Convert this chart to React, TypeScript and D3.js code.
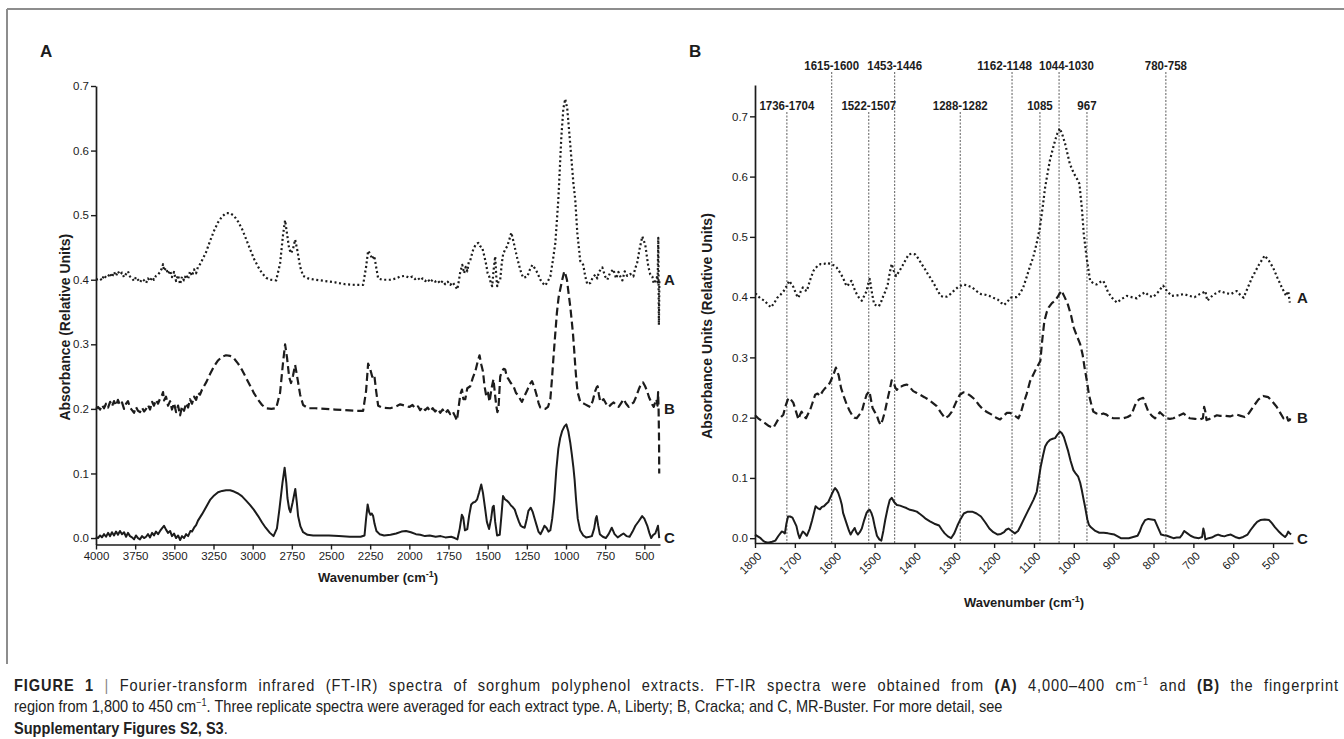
import * as d3 from 'd3'
import React from 'react'

type Pt = [number, number]

// panel A: full spectra, 4000-400 cm-1  [wavenumber, absorbance]
const fullLiberty: Pt[] = [
    [4000, 0.4], [3974, 0.402], [3962, 0.399], [3949, 0.407], [3936, 0.403], [3923, 0.405], [3910, 0.41], [3898, 0.404],
    [3885, 0.412], [3872, 0.406], [3860, 0.413], [3847, 0.408], [3834, 0.411], [3821, 0.404], [3808, 0.409], [3796, 0.413],
    [3783, 0.405], [3770, 0.402], [3757, 0.398], [3745, 0.404], [3732, 0.4], [3719, 0.396], [3706, 0.401], [3693, 0.399],
    [3680, 0.395], [3668, 0.402], [3655, 0.398], [3642, 0.404], [3630, 0.4], [3617, 0.406], [3604, 0.408], [3591, 0.412],
    [3579, 0.418], [3572, 0.424], [3566, 0.414], [3553, 0.418], [3540, 0.409], [3527, 0.414], [3515, 0.404], [3502, 0.412],
    [3489, 0.398], [3476, 0.407], [3463, 0.393], [3451, 0.405], [3438, 0.399], [3425, 0.408], [3412, 0.401], [3400, 0.413],
    [3387, 0.406], [3374, 0.416], [3361, 0.41], [3349, 0.42], [3336, 0.424], [3323, 0.43], [3297, 0.443], [3272, 0.46],
    [3246, 0.476], [3221, 0.489], [3195, 0.498], [3170, 0.503], [3144, 0.503], [3119, 0.499], [3093, 0.49], [3067, 0.478],
    [3042, 0.463], [3016, 0.447], [2991, 0.432], [2965, 0.42], [2940, 0.41], [2914, 0.403], [2889, 0.4], [2850, 0.399],
    [2825, 0.425], [2806, 0.47], [2793, 0.492], [2780, 0.47], [2767, 0.448], [2755, 0.441], [2742, 0.448], [2729, 0.462],
    [2716, 0.447], [2697, 0.42], [2678, 0.406], [2646, 0.402], [2601, 0.4], [2537, 0.398], [2474, 0.396], [2410, 0.393],
    [2346, 0.392], [2295, 0.392], [2276, 0.42], [2263, 0.445], [2250, 0.44], [2237, 0.432], [2224, 0.437], [2212, 0.42],
    [2199, 0.402], [2173, 0.4], [2122, 0.4], [2084, 0.402], [2058, 0.405], [2026, 0.406], [2000, 0.403], [1980, 0.405],
    [1963, 0.401], [1945, 0.403], [1931, 0.399], [1915, 0.402], [1899, 0.398], [1883, 0.401], [1867, 0.396], [1851, 0.4],
    [1835, 0.397], [1819, 0.399], [1803, 0.394], [1787, 0.398], [1771, 0.393], [1755, 0.397], [1739, 0.392], [1723, 0.396],
    [1707, 0.39], [1694, 0.385], [1684, 0.398], [1675, 0.412], [1662, 0.423], [1650, 0.41], [1640, 0.42], [1630, 0.413],
    [1620, 0.428], [1611, 0.43], [1600, 0.44], [1592, 0.447], [1575, 0.455], [1560, 0.457], [1548, 0.452], [1535, 0.45],
    [1520, 0.435], [1509, 0.423], [1500, 0.41], [1490, 0.405], [1480, 0.395], [1471, 0.39], [1462, 0.415], [1452, 0.436],
    [1445, 0.405], [1439, 0.39], [1430, 0.398], [1420, 0.4], [1410, 0.425], [1401, 0.44], [1388, 0.447], [1375, 0.452],
    [1362, 0.462], [1349, 0.473], [1336, 0.46], [1324, 0.447], [1310, 0.432], [1298, 0.421], [1285, 0.41], [1273, 0.403],
    [1260, 0.404], [1247, 0.405], [1230, 0.416], [1215, 0.423], [1200, 0.418], [1183, 0.411], [1164, 0.4], [1150, 0.395],
    [1132, 0.391], [1115, 0.398], [1100, 0.405], [1085, 0.428], [1068, 0.457], [1049, 0.524], [1030, 0.62], [1017, 0.665],
    [1005, 0.68], [992, 0.665], [973, 0.61], [953, 0.55], [941, 0.524], [928, 0.473], [909, 0.429], [890, 0.423],
    [877, 0.405], [864, 0.393], [845, 0.395], [830, 0.403], [813, 0.408], [800, 0.402], [790, 0.412], [768, 0.419],
    [750, 0.405], [736, 0.4], [720, 0.41], [698, 0.416], [680, 0.402], [665, 0.412], [653, 0.405], [640, 0.399],
    [625, 0.413], [609, 0.406], [590, 0.409], [570, 0.405], [560, 0.416], [545, 0.427], [530, 0.448], [513, 0.467],
    [494, 0.454], [475, 0.421], [462, 0.408], [449, 0.405], [440, 0.394], [430, 0.398], [420, 0.404], [415, 0.396],
    [411, 0.465], [407, 0.33], [404, 0.398], [400, 0.4],
]

const fullCracka: Pt[] = [
    [4000, 0.2], [3987, 0.203], [3974, 0.199], [3962, 0.206], [3949, 0.201], [3936, 0.208], [3923, 0.202], [3910, 0.211],
    [3898, 0.204], [3885, 0.212], [3872, 0.205], [3860, 0.214], [3847, 0.206], [3834, 0.21], [3821, 0.2], [3808, 0.208],
    [3796, 0.212], [3783, 0.202], [3770, 0.198], [3757, 0.194], [3745, 0.203], [3732, 0.197], [3719, 0.195], [3706, 0.202],
    [3693, 0.196], [3680, 0.2], [3668, 0.206], [3655, 0.199], [3642, 0.211], [3630, 0.205], [3617, 0.214], [3604, 0.208],
    [3591, 0.216], [3579, 0.221], [3572, 0.226], [3566, 0.213], [3553, 0.219], [3540, 0.205], [3527, 0.212], [3515, 0.199],
    [3502, 0.209], [3489, 0.195], [3476, 0.205], [3463, 0.19], [3451, 0.204], [3438, 0.197], [3425, 0.209], [3412, 0.202],
    [3400, 0.215], [3387, 0.208], [3374, 0.219], [3361, 0.214], [3349, 0.225], [3336, 0.222], [3323, 0.23], [3297, 0.241],
    [3272, 0.254], [3246, 0.266], [3221, 0.275], [3195, 0.281], [3170, 0.283], [3144, 0.282], [3119, 0.278], [3093, 0.27],
    [3067, 0.26], [3042, 0.248], [3016, 0.236], [2991, 0.224], [2965, 0.214], [2940, 0.206], [2914, 0.201], [2880, 0.2],
    [2850, 0.201], [2825, 0.225], [2806, 0.272], [2793, 0.3], [2780, 0.278], [2767, 0.249], [2755, 0.24], [2742, 0.252],
    [2729, 0.268], [2716, 0.25], [2697, 0.222], [2678, 0.206], [2646, 0.201], [2601, 0.201], [2537, 0.2], [2474, 0.199],
    [2410, 0.198], [2346, 0.197], [2295, 0.197], [2276, 0.228], [2263, 0.27], [2250, 0.262], [2237, 0.25], [2224, 0.253],
    [2212, 0.228], [2199, 0.205], [2173, 0.202], [2122, 0.201], [2084, 0.204], [2058, 0.207], [2026, 0.205], [2000, 0.203],
    [1980, 0.206], [1963, 0.201], [1945, 0.204], [1931, 0.198], [1915, 0.203], [1899, 0.198], [1883, 0.202], [1867, 0.196],
    [1851, 0.201], [1835, 0.196], [1819, 0.2], [1803, 0.194], [1787, 0.199], [1771, 0.193], [1755, 0.198], [1739, 0.192],
    [1723, 0.196], [1707, 0.188], [1696, 0.182], [1684, 0.205], [1675, 0.222], [1664, 0.23], [1655, 0.215], [1643, 0.215],
    [1630, 0.232], [1611, 0.235], [1595, 0.248], [1579, 0.258], [1565, 0.272], [1552, 0.283], [1540, 0.268], [1530, 0.258],
    [1520, 0.235], [1509, 0.22], [1498, 0.225], [1488, 0.211], [1475, 0.232], [1463, 0.246], [1453, 0.222], [1445, 0.205],
    [1438, 0.195], [1431, 0.2], [1420, 0.25], [1409, 0.258], [1398, 0.262], [1388, 0.261], [1378, 0.25], [1367, 0.246],
    [1352, 0.24], [1335, 0.235], [1320, 0.225], [1303, 0.22], [1290, 0.214], [1281, 0.211], [1265, 0.22], [1249, 0.228],
    [1232, 0.238], [1217, 0.243], [1200, 0.232], [1186, 0.22], [1175, 0.209], [1164, 0.202], [1148, 0.2], [1132, 0.2],
    [1115, 0.203], [1100, 0.215], [1090, 0.245], [1079, 0.283], [1068, 0.318], [1058, 0.349], [1047, 0.373], [1037, 0.385],
    [1024, 0.4], [1011, 0.413], [1003, 0.408], [994, 0.4], [984, 0.38], [973, 0.359], [965, 0.34], [956, 0.318],
    [948, 0.292], [941, 0.267], [934, 0.245], [926, 0.226], [909, 0.211], [893, 0.209], [877, 0.207], [861, 0.205],
    [845, 0.203], [830, 0.212], [813, 0.228], [805, 0.233], [798, 0.235], [790, 0.222], [781, 0.211], [770, 0.213],
    [760, 0.215], [744, 0.208], [728, 0.203], [712, 0.207], [696, 0.21], [680, 0.206], [664, 0.203], [648, 0.209],
    [632, 0.215], [616, 0.208], [600, 0.203], [584, 0.207], [568, 0.21], [552, 0.219], [536, 0.23], [522, 0.238],
    [508, 0.241], [495, 0.235], [483, 0.228], [470, 0.218], [457, 0.211], [448, 0.206], [440, 0.203], [431, 0.21],
    [423, 0.215], [416, 0.205], [412, 0.226], [409, 0.2], [406, 0.15], [405, 0.1],
]

const fullBuster: Pt[] = [
    [4000, 0.002], [3987, 0.0], [3974, 0.004], [3962, 0.001], [3949, 0.006], [3936, 0.002], [3923, 0.008], [3910, 0.003],
    [3898, 0.009], [3885, 0.004], [3872, 0.01], [3860, 0.005], [3847, 0.011], [3834, 0.006], [3821, 0.009], [3808, 0.002],
    [3796, 0.008], [3783, 0.003], [3770, 0.001], [3757, -0.002], [3745, 0.004], [3732, 0.0], [3719, -0.002], [3706, 0.003],
    [3693, 0.0], [3680, 0.002], [3668, 0.006], [3655, 0.001], [3642, 0.008], [3630, 0.004], [3617, 0.01], [3604, 0.006],
    [3591, 0.011], [3579, 0.015], [3566, 0.019], [3553, 0.013], [3540, 0.008], [3527, 0.011], [3515, 0.003], [3502, 0.007],
    [3489, 0.0], [3476, 0.004], [3463, -0.003], [3451, 0.003], [3438, 0.0], [3425, 0.006], [3412, 0.003], [3397, 0.011],
    [3387, 0.01], [3374, 0.016], [3361, 0.02], [3349, 0.027], [3323, 0.037], [3297, 0.048], [3272, 0.059], [3246, 0.066],
    [3221, 0.071], [3195, 0.073], [3170, 0.074], [3144, 0.074], [3119, 0.072], [3093, 0.069], [3069, 0.065], [3042, 0.058],
    [3016, 0.051], [2993, 0.044], [2965, 0.034], [2940, 0.024], [2917, 0.016], [2890, 0.008], [2867, 0.003], [2845, 0.015],
    [2829, 0.045], [2810, 0.085], [2796, 0.109], [2785, 0.085], [2778, 0.062], [2767, 0.045], [2759, 0.04], [2745, 0.055],
    [2728, 0.076], [2718, 0.055], [2710, 0.034], [2695, 0.018], [2678, 0.009], [2650, 0.005], [2614, 0.004], [2560, 0.004],
    [2513, 0.004], [2450, 0.003], [2380, 0.002], [2311, 0.002], [2286, 0.004], [2276, 0.03], [2266, 0.052], [2256, 0.04],
    [2248, 0.036], [2240, 0.038], [2231, 0.034], [2222, 0.022], [2210, 0.011], [2190, 0.006], [2161, 0.004], [2120, 0.005],
    [2084, 0.007], [2050, 0.01], [2021, 0.011], [1990, 0.009], [1958, 0.006], [1930, 0.005], [1900, 0.003], [1870, 0.004],
    [1832, 0.002], [1800, 0.003], [1770, 0.001], [1733, 0.002], [1710, 0.0], [1693, -0.002], [1678, 0.015], [1665, 0.036],
    [1656, 0.032], [1645, 0.012], [1630, 0.014], [1618, 0.035], [1605, 0.052], [1592, 0.055], [1580, 0.056], [1567, 0.06],
    [1555, 0.07], [1541, 0.083], [1530, 0.07], [1516, 0.045], [1505, 0.025], [1491, 0.014], [1478, 0.03], [1468, 0.048],
    [1461, 0.05], [1452, 0.025], [1440, 0.004], [1423, 0.005], [1412, 0.035], [1402, 0.065], [1390, 0.06], [1378, 0.058],
    [1365, 0.055], [1350, 0.05], [1340, 0.048], [1327, 0.044], [1315, 0.035], [1300, 0.025], [1289, 0.019], [1276, 0.017],
    [1264, 0.016], [1250, 0.03], [1240, 0.042], [1225, 0.047], [1212, 0.04], [1200, 0.03], [1188, 0.02], [1176, 0.01],
    [1163, 0.006], [1150, 0.012], [1138, 0.019], [1125, 0.016], [1112, 0.01], [1100, 0.012], [1088, 0.03], [1075, 0.06],
    [1062, 0.105], [1049, 0.138], [1037, 0.155], [1024, 0.166], [1010, 0.173], [998, 0.176], [985, 0.165], [973, 0.148],
    [963, 0.13], [953, 0.11], [945, 0.09], [936, 0.06], [925, 0.03], [910, 0.012], [890, 0.004], [872, 0.001],
    [850, 0.002], [835, 0.003], [820, 0.015], [810, 0.03], [804, 0.034], [795, 0.02], [784, 0.006], [765, 0.002],
    [746, 0.0], [728, 0.006], [708, 0.016], [690, 0.006], [670, 0.001], [652, 0.004], [633, 0.007], [614, 0.003],
    [594, 0.002], [575, 0.01], [557, 0.019], [536, 0.026], [514, 0.034], [500, 0.03], [481, 0.019], [468, 0.008],
    [456, 0.0], [443, 0.005], [430, 0.007], [420, 0.014], [413, 0.019], [409, 0.01], [405, 0.0],
]

// panel B: fingerprint region, 1800-450 cm-1
const fpLiberty: Pt[] = [
    [1800, 0.405], [1797, 0.405], [1787, 0.398], [1776, 0.394], [1768, 0.388], [1760, 0.383], [1752, 0.39], [1744, 0.399],
    [1736, 0.404], [1728, 0.41], [1721, 0.418], [1714, 0.427], [1708, 0.421], [1703, 0.416], [1697, 0.405], [1691, 0.399],
    [1685, 0.41], [1680, 0.416], [1675, 0.412], [1670, 0.41], [1662, 0.428], [1653, 0.444], [1643, 0.452], [1635, 0.455],
    [1627, 0.455], [1619, 0.457], [1611, 0.455], [1603, 0.453], [1595, 0.449], [1587, 0.441], [1579, 0.432], [1573, 0.422],
    [1568, 0.418], [1563, 0.424], [1558, 0.427], [1552, 0.416], [1547, 0.408], [1540, 0.4], [1532, 0.394], [1526, 0.402],
    [1520, 0.41], [1516, 0.422], [1512, 0.43], [1506, 0.405], [1501, 0.388], [1495, 0.386], [1489, 0.385], [1483, 0.393],
    [1478, 0.402], [1472, 0.411], [1467, 0.421], [1462, 0.44], [1457, 0.455], [1452, 0.444], [1446, 0.435], [1438, 0.443],
    [1430, 0.452], [1422, 0.462], [1414, 0.471], [1406, 0.472], [1398, 0.471], [1390, 0.464], [1382, 0.455], [1374, 0.447],
    [1366, 0.438], [1358, 0.43], [1350, 0.421], [1342, 0.411], [1334, 0.402], [1326, 0.4], [1318, 0.401], [1310, 0.405],
    [1302, 0.41], [1290, 0.417], [1276, 0.421], [1266, 0.419], [1255, 0.416], [1244, 0.41], [1233, 0.405], [1222, 0.404],
    [1212, 0.402], [1202, 0.399], [1191, 0.396], [1183, 0.391], [1175, 0.387], [1167, 0.392], [1159, 0.399], [1151, 0.4],
    [1143, 0.4], [1135, 0.406], [1127, 0.416], [1119, 0.432], [1111, 0.449], [1102, 0.466], [1093, 0.49], [1085, 0.516],
    [1078, 0.55], [1072, 0.582], [1066, 0.605], [1060, 0.627], [1053, 0.645], [1047, 0.66], [1041, 0.672], [1035, 0.68],
    [1028, 0.668], [1022, 0.655], [1016, 0.638], [1010, 0.621], [1003, 0.61], [997, 0.602], [991, 0.595], [986, 0.588],
    [980, 0.549], [975, 0.505], [968, 0.466], [959, 0.427], [951, 0.423], [943, 0.421], [934, 0.425], [926, 0.427],
    [920, 0.418], [914, 0.408], [903, 0.398], [892, 0.391], [880, 0.397], [867, 0.402], [855, 0.4], [842, 0.398],
    [832, 0.404], [821, 0.408], [811, 0.402], [801, 0.4], [789, 0.408], [776, 0.419], [766, 0.41], [755, 0.402],
    [740, 0.403], [724, 0.405], [710, 0.402], [697, 0.4], [684, 0.405], [674, 0.408], [670, 0.41], [665, 0.394],
    [650, 0.404], [633, 0.41], [620, 0.407], [606, 0.405], [598, 0.408], [591, 0.41], [583, 0.404], [574, 0.399],
    [564, 0.415], [553, 0.432], [537, 0.452], [521, 0.469], [510, 0.46], [500, 0.449], [489, 0.432], [478, 0.416],
    [472, 0.408], [467, 0.402], [462, 0.41], [458, 0.391],
]

const fpCracka: Pt[] = [
    [1800, 0.204], [1792, 0.199], [1784, 0.195], [1775, 0.191], [1765, 0.186], [1754, 0.183], [1748, 0.19], [1742, 0.197],
    [1736, 0.2], [1729, 0.205], [1722, 0.222], [1716, 0.233], [1710, 0.23], [1704, 0.225], [1697, 0.21], [1691, 0.197],
    [1687, 0.205], [1683, 0.21], [1678, 0.203], [1672, 0.199], [1667, 0.206], [1662, 0.212], [1655, 0.226], [1649, 0.238],
    [1643, 0.24], [1637, 0.236], [1630, 0.244], [1624, 0.249], [1618, 0.252], [1612, 0.258], [1604, 0.27], [1597, 0.283],
    [1590, 0.27], [1584, 0.249], [1577, 0.235], [1570, 0.222], [1563, 0.212], [1557, 0.205], [1551, 0.2], [1545, 0.199],
    [1538, 0.205], [1532, 0.21], [1526, 0.225], [1520, 0.238], [1513, 0.244], [1509, 0.23], [1505, 0.216], [1500, 0.21],
    [1495, 0.205], [1490, 0.195], [1485, 0.188], [1480, 0.196], [1474, 0.21], [1467, 0.232], [1461, 0.249], [1457, 0.262],
    [1453, 0.26], [1448, 0.25], [1444, 0.246], [1438, 0.252], [1432, 0.252], [1425, 0.254], [1419, 0.255], [1411, 0.25],
    [1403, 0.244], [1394, 0.241], [1386, 0.238], [1375, 0.234], [1365, 0.23], [1355, 0.225], [1344, 0.219], [1333, 0.208],
    [1323, 0.199], [1314, 0.203], [1306, 0.21], [1296, 0.225], [1286, 0.238], [1277, 0.242], [1269, 0.241], [1259, 0.236],
    [1248, 0.23], [1238, 0.221], [1227, 0.213], [1217, 0.209], [1206, 0.205], [1195, 0.2], [1185, 0.197], [1176, 0.203],
    [1168, 0.208], [1160, 0.208], [1150, 0.204], [1139, 0.199], [1133, 0.208], [1127, 0.222], [1118, 0.24], [1110, 0.26],
    [1097, 0.278], [1084, 0.294], [1079, 0.33], [1074, 0.36], [1068, 0.375], [1063, 0.383], [1055, 0.39], [1047, 0.394],
    [1039, 0.402], [1031, 0.411], [1023, 0.4], [1015, 0.388], [1007, 0.37], [1000, 0.349], [992, 0.335], [984, 0.322],
    [978, 0.305], [973, 0.283], [967, 0.26], [962, 0.238], [956, 0.222], [951, 0.21], [943, 0.207], [934, 0.205],
    [926, 0.207], [918, 0.205], [910, 0.201], [901, 0.199], [888, 0.199], [876, 0.199], [865, 0.201], [855, 0.205],
    [848, 0.218], [842, 0.227], [834, 0.231], [826, 0.233], [820, 0.222], [813, 0.21], [804, 0.203], [796, 0.199],
    [790, 0.204], [784, 0.209], [776, 0.204], [767, 0.199], [759, 0.198], [750, 0.199], [738, 0.203], [725, 0.207],
    [717, 0.203], [709, 0.199], [696, 0.198], [683, 0.197], [676, 0.199], [673, 0.218], [670, 0.21], [667, 0.196],
    [659, 0.198], [650, 0.201], [641, 0.204], [633, 0.203], [620, 0.203], [608, 0.202], [599, 0.204], [591, 0.205],
    [581, 0.203], [571, 0.201], [561, 0.207], [550, 0.218], [537, 0.23], [525, 0.236], [518, 0.235], [512, 0.234],
    [501, 0.226], [491, 0.218], [482, 0.208], [474, 0.199], [470, 0.201], [466, 0.203], [462, 0.195], [458, 0.196],
    [455, 0.203],
]

const fpBuster: Pt[] = [
    [1800, 0.006], [1793, 0.003], [1786, 0.0], [1780, -0.004], [1776, -0.006], [1770, -0.007], [1765, -0.007], [1757, -0.006],
    [1749, -0.004], [1741, 0.004], [1733, 0.011], [1729, 0.01], [1725, 0.008], [1721, 0.025], [1717, 0.036], [1712, 0.036],
    [1706, 0.034], [1701, 0.027], [1696, 0.02], [1692, 0.008], [1688, 0.0], [1684, 0.006], [1680, 0.011], [1675, 0.008],
    [1670, 0.004], [1663, 0.015], [1657, 0.029], [1652, 0.042], [1648, 0.053], [1643, 0.05], [1637, 0.048], [1632, 0.052],
    [1627, 0.053], [1621, 0.057], [1616, 0.06], [1612, 0.066], [1608, 0.072], [1603, 0.079], [1599, 0.083], [1595, 0.08],
    [1591, 0.075], [1586, 0.065], [1582, 0.055], [1579, 0.042], [1573, 0.03], [1568, 0.02], [1564, 0.012], [1560, 0.006],
    [1555, 0.012], [1550, 0.017], [1546, 0.01], [1542, 0.006], [1537, 0.01], [1532, 0.016], [1526, 0.03], [1520, 0.042],
    [1516, 0.046], [1512, 0.047], [1508, 0.042], [1504, 0.034], [1499, 0.018], [1494, 0.004], [1488, -0.002], [1483, -0.004],
    [1478, 0.012], [1473, 0.031], [1467, 0.05], [1462, 0.063], [1457, 0.067], [1451, 0.06], [1444, 0.055], [1436, 0.054],
    [1428, 0.052], [1420, 0.05], [1411, 0.047], [1403, 0.046], [1394, 0.044], [1386, 0.04], [1378, 0.036], [1371, 0.032],
    [1361, 0.028], [1350, 0.024], [1338, 0.021], [1331, 0.014], [1324, 0.008], [1316, 0.003], [1308, 0.0], [1300, 0.008],
    [1292, 0.021], [1284, 0.032], [1276, 0.041], [1266, 0.044], [1255, 0.044], [1244, 0.041], [1233, 0.036], [1222, 0.026],
    [1212, 0.016], [1202, 0.01], [1191, 0.006], [1183, 0.007], [1175, 0.01], [1170, 0.014], [1164, 0.016], [1156, 0.012],
    [1148, 0.008], [1140, 0.012], [1133, 0.021], [1125, 0.032], [1116, 0.044], [1110, 0.052], [1101, 0.064], [1093, 0.077],
    [1083, 0.119], [1077, 0.138], [1072, 0.152], [1066, 0.159], [1060, 0.163], [1053, 0.165], [1047, 0.166], [1041, 0.172],
    [1035, 0.177], [1030, 0.174], [1025, 0.168], [1020, 0.157], [1014, 0.144], [1008, 0.128], [1001, 0.113], [995, 0.107],
    [989, 0.102], [984, 0.092], [980, 0.08], [976, 0.066], [972, 0.053], [966, 0.031], [962, 0.022], [957, 0.018],
    [946, 0.012], [936, 0.009], [925, 0.009], [914, 0.008], [906, 0.007], [898, 0.006], [890, 0.003], [882, 0.0],
    [872, 0.0], [862, 0.0], [851, 0.002], [840, 0.004], [834, 0.012], [829, 0.021], [821, 0.03], [813, 0.032],
    [805, 0.031], [797, 0.03], [789, 0.018], [781, 0.006], [774, 0.005], [766, 0.004], [758, 0.002], [750, 0.0],
    [742, 0.001], [734, 0.001], [728, 0.006], [723, 0.012], [715, 0.008], [707, 0.004], [697, 0.001], [686, 0.0],
    [678, 0.002], [675, 0.016], [672, 0.008], [670, -0.002], [662, 0.0], [654, 0.001], [646, 0.004], [638, 0.006],
    [630, 0.004], [622, 0.003], [614, 0.005], [606, 0.006], [595, 0.002], [585, 0.0], [575, 0.002], [564, 0.006],
    [556, 0.014], [548, 0.021], [540, 0.027], [532, 0.03], [521, 0.031], [510, 0.03], [503, 0.025], [495, 0.018],
    [487, 0.012], [478, 0.006], [470, 0.002], [466, 0.005], [462, 0.011], [458, 0.008], [455, 0.006],
]

const fullTicks = [4000, 3750, 3500, 3250, 3000, 2750, 2500, 2250, 2000, 1750, 1500, 1250, 1000, 750, 500]
const fpTicks = [1800, 1700, 1600, 1500, 1400, 1300, 1200, 1100, 1000, 900, 800, 700, 600, 500]
const absTicks = [0, 0.1, 0.2, 0.3, 0.4, 0.5, 0.6, 0.7]

const seriesKeys = ['A', 'B', 'C']
const seriesLevels = [0.4, 0.2, 0.0]

// assigned band ranges drawn as dashed guides in panel B
const bandLabels = ['1736-1704', '1615-1600', '1522-1507', '1453-1446', '1288-1282', '1162-1148', '1085', '1044-1030', '967', '780-758']
const bandCenters = [1720, 1607.5, 1514.5, 1449.5, 1285, 1155, 1085, 1037, 967, 769]
const bandRows = [2, 1, 2, 1, 2, 1, 2, 1, 2, 1]

const FONT = '"Liberation Sans", Arial, Helvetica, sans-serif'
const INK = '#1c1c1c'

const strokeStyles = [
    { dash: '2 2.6', width: 2.2 },
    { dash: '8 4', width: 2.2 },
    { dash: undefined, width: 2 },
]

function labelWidth(s: string) {
    let w = 0
    for (const c of s) w += c === '-' ? 3.6 : 6.4
    return w
}

// centre of each band label, pushed apart where neighbours in a row would collide
function placeBandLabels(xs: number[]) {
    const pos = xs.slice()
    const gap = 7
    for (const row of [1, 2]) {
        const idx = bandRows.map((r, i) => (r === row ? i : -1)).filter((i) => i >= 0)
        idx.sort((a, b) => xs[a] - xs[b])
        for (let k = 1; k < idx.length; k++) {
            const a = idx[k - 1]
            const b = idx[k]
            const need = (labelWidth(bandLabels[a]) + labelWidth(bandLabels[b])) / 2 + gap
            const have = pos[b] - pos[a]
            if (have < need) {
                pos[a] -= (need - have) / 2
                pos[b] += (need - have) / 2
            }
        }
    }
    return pos
}

interface IPanelProps {
    letter: string
    letterX: number
    spectra: Pt[][]
    x: d3.ScaleLinear<number, number>
    y: d3.ScaleLinear<number, number>
    xTicks: number[]
    rotateTicks: boolean
    yTitle: string
    yTitleX: number
    xTitleY: number
    labelX: number
    children?: React.ReactNode
}

const Panel: React.FC<IPanelProps> = ({ letter, letterX, spectra, x, y, xTicks, rotateTicks, yTitle, yTitleX, xTitleY, labelX, children }) => {
    const xAxisRef = React.useRef<SVGGElement | null>(null)
    const yAxisRef = React.useRef<SVGGElement | null>(null)

    const [x0, x1] = x.range()
    const [yBottom, yTop] = y.range()

    React.useEffect(() => {
        const gx = d3.select(xAxisRef.current!)
        const gy = d3.select(yAxisRef.current!)
        // @ts-ignore
        gx.call(d3.axisBottom(x).tickValues(xTicks).tickFormat(d3.format('d')).tickSize(5).tickSizeOuter(0).tickPadding(2))
        // @ts-ignore
        gy.call(d3.axisLeft(y).tickValues(absTicks).tickFormat(d3.format('.1f')).tickSize(5).tickSizeOuter(0).tickPadding(2))

        for (const g of [gx, gy]) {
            g.attr('font-family', null).attr('font-size', null)
            g.select('.domain').attr('stroke', INK).attr('stroke-width', 1.7)
            g.selectAll('.tick line').attr('stroke', INK).attr('stroke-width', 1.4)
            g.selectAll('.tick text').attr('fill', INK).style('font-size', '11.5px').style('font-family', FONT)
        }

        // fingerprint panel has slanted wavenumber labels
        if (rotateTicks) {
            gx.selectAll('.tick text')
                .attr('x', 0)
                .attr('y', 0)
                .attr('dy', '0.35em')
                .attr('text-anchor', 'end')
                .attr('transform', 'translate(4,11) rotate(-45)')
        }
    }, [x, y, xTicks, rotateTicks])

    const line = d3
        .line<Pt>()
        .x((d) => x(d[0]))
        .y((d) => y(d[1]))

    return (
        <g>
            <text x={letterX} y={57} fontSize={17} fontWeight="bold" fill={INK}>
                {letter}
            </text>
            {children}
            {spectra.map((s, i) => (
                <path
                    key={i}
                    d={line(s) || ''}
                    fill="none"
                    stroke={INK}
                    strokeWidth={strokeStyles[i].width}
                    strokeDasharray={strokeStyles[i].dash}
                    strokeLinejoin="round"
                />
            ))}
            {seriesKeys.map((k, i) => (
                <text key={k} x={labelX} y={y(seriesLevels[i])} dy="0.36em" fontSize={15} fontWeight="bold" fill={INK}>
                    {k}
                </text>
            ))}
            <g ref={xAxisRef} transform={`translate(0,${yBottom})`} />
            <g ref={yAxisRef} transform={`translate(${x0},0)`} />
            <text
                transform={`translate(${yTitleX},${(yBottom + yTop) / 2 + 12}) rotate(-90)`}
                textAnchor="middle"
                fontSize={14}
                fontWeight="bold"
                fill={INK}
            >
                {yTitle}
            </text>
            <text x={(x0 + x1) / 2} y={xTitleY} textAnchor="middle" fontSize={13} fontWeight="bold" fill={INK}>
                {'Wavenumber (cm'}
                <tspan dy={-5} fontSize={9}>
                    {'-1'}
                </tspan>
                <tspan dy={5}>{')'}</tspan>
            </text>
        </g>
    )
}

// caption set in a condensed face: the second line fixes the squeeze, the first line is justified
const Caption: React.FC = () => {
    const groupRef = React.useRef<SVGGElement | null>(null)
    const line1Ref = React.useRef<SVGTextElement | null>(null)
    const line2Ref = React.useRef<SVGTextElement | null>(null)

    React.useEffect(() => {
        const l1 = line1Ref.current
        const l2 = line2Ref.current
        if (!l1 || !l2 || !groupRef.current) return
        const k = 989 / l2.getComputedTextLength()
        groupRef.current.setAttribute('transform', `translate(14,0) scale(${k},1)`)
        const target = 1324 / k
        const spaces = (l1.textContent || '').split(' ').length - 1
        const extra = Math.max(0, target - l1.getComputedTextLength())
        // part of the slack goes to the word gaps, the rest is spread over the letters
        l1.setAttribute('word-spacing', String((0.45 * extra) / spaces))
        l1.setAttribute('textLength', String(target))
        l1.setAttribute('lengthAdjust', 'spacing')
    }, [])

    return (
        <g ref={groupRef} fill="#222" fontSize={16} transform="translate(14,0)">
            <text ref={line1Ref} x={0} y={691}>
                <tspan fontWeight="bold">{'FIGURE 1'}</tspan>
                <tspan fill="#888">{' | '}</tspan>
                <tspan>{'Fourier-transform infrared (FT-IR) spectra of sorghum polyphenol extracts. FT-IR spectra were obtained from '}</tspan>
                <tspan fontWeight="bold">{'(A)'}</tspan>
                <tspan>{' 4,000–400 cm'}</tspan>
                <tspan dy={-6} fontSize={10}>{'−1'}</tspan>
                <tspan dy={6}>{' and '}</tspan>
                <tspan fontWeight="bold">{'(B)'}</tspan>
                <tspan>{' the fingerprint'}</tspan>
            </text>
            <text ref={line2Ref} x={0} y={712}>
                <tspan>{'region from 1,800 to 450 cm'}</tspan>
                <tspan dy={-6} fontSize={10}>{'−1'}</tspan>
                <tspan dy={6}>{'. Three replicate spectra were averaged for each extract type. A, Liberty; B, Cracka; and C, MR-Buster. For more detail, see'}</tspan>
            </text>
            <text x={0} y={734}>
                <tspan fontWeight="bold">{'Supplementary Figures S2, S3'}</tspan>
                <tspan>{'.'}</tspan>
            </text>
        </g>
    )
}

export default function App() {
    const xFull = d3.scaleLinear().domain([4000, 400]).range([96, 660])
    const yFull = d3.scaleLinear().domain([-0.01, 0.7]).range([544.5, 86])
    const xFp = d3.scaleLinear().domain([1800, 450]).range([755, 1293])
    const yFp = d3.scaleLinear().domain([-0.008, 0.752]).range([543, 85])

    const bandX = bandCenters.map((c) => xFp(c))
    const bandLabelX = placeBandLabels(bandX)

    return (
        <div style={{ position: 'absolute', left: 0, top: 0 }}>
            <svg width={1344} height={739} style={{ display: 'block', background: '#fff' }} fontFamily={FONT}>
                <line x1={7} y1={9} x2={1344} y2={9} stroke="#8d8d8d" strokeWidth={2} />
                <line x1={7} y1={9} x2={7} y2={664} stroke="#8d8d8d" strokeWidth={2} />

                <Panel
                    letter="A"
                    letterX={40}
                    spectra={[fullLiberty, fullCracka, fullBuster]}
                    x={xFull}
                    y={yFull}
                    xTicks={fullTicks}
                    rotateTicks={false}
                    yTitle="Absorbance (Relative Units)"
                    yTitleX={70}
                    xTitleY={582}
                    labelX={664}
                />

                <Panel
                    letter="B"
                    letterX={689}
                    spectra={[fpLiberty, fpCracka, fpBuster]}
                    x={xFp}
                    y={yFp}
                    xTicks={fpTicks}
                    rotateTicks={true}
                    yTitle="Absorbance Units (Relative Units)"
                    yTitleX={712}
                    xTitleY={607}
                    labelX={1297}
                >
                    {bandLabels.map((b, i) => {
                        const bx = bandX[i]
                        const top = bandRows[i] === 1 ? 72 : 112
                        return (
                            <g key={b}>
                                <line x1={bx} x2={bx} y1={top} y2={543} stroke="#333" strokeWidth={0.8} strokeDasharray="2 1.5" />
                                <text
                                    x={bandLabelX[i]}
                                    y={top - 2}
                                    textAnchor="middle"
                                    fontSize={13}
                                    fontWeight="bold"
                                    fill={INK}
                                    textLength={labelWidth(b)}
                                    lengthAdjust="spacingAndGlyphs"
                                >
                                    {b}
                                </text>
                            </g>
                        )
                    })}
                </Panel>

                <Caption />
            </svg>
        </div>
    )
}
